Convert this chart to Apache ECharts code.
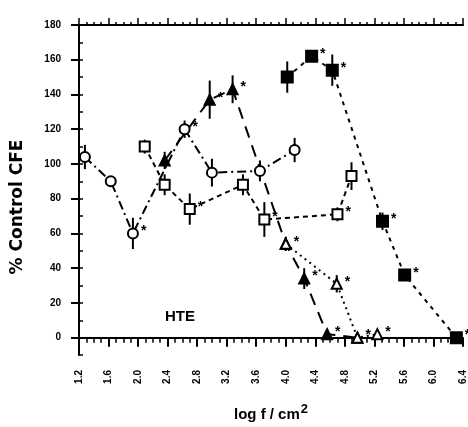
<!DOCTYPE html>
<html lang="en">
<head>
<meta charset="UTF-8">
<title>HTE control CFE</title>
<script src="https://cdn.jsdelivr.net/npm/echarts@6/dist/echarts.min.js"></script>
<style>
  * { margin: 0; padding: 0; }
  body { background: #fff; }
  #chart { width: 468px; height: 427px; }
</style>
</head>
<body>
<div id="chart"></div>
<script>
// tick labels
const xTicks = [1.2, 1.6, 2.0, 2.4, 2.8, 3.2, 3.6, 4.0, 4.4, 4.8, 5.2, 5.6, 6.0, 6.4];
const yTicks = [0, 20, 40, 60, 80, 100, 120, 140, 160, 180];

// open circles, dash-dot line
const circX = [1.28, 1.63, 1.93, 2.63, 3.0, 3.65, 4.12];
const circY = [104, 90, 60, 120, 95, 96, 108];
const circErr = [7, 3, 9, 5, 8, 6, 7];
const circStar = [0, 0, 1, 1, 0, 0, 0];

// open squares, short dashes
const sqX = [2.09, 2.36, 2.70, 3.42, 3.71, 4.70, 4.89];
const sqY = [110, 88, 74, 88, 68, 71, 93];
const sqErr = [4, 6, 9, 6, 10, 4, 8];
const sqStar = [0, 0, 1, 0, 1, 1, 0];

// filled triangles, long dashes
const triX = [2.36, 2.97, 3.28, 4.0, 4.25, 4.56, 4.97];
const triY = [102, 137, 143, 54, 34, 2, 0];
const triErr = [5, 11, 8, 4, 6, 3, 2];
const triStar = [0, 1, 1, 0, 1, 1, 0];

// open triangles, dotted
const otriX = [4.0, 4.69, 4.97, 5.24];
const otriY = [54, 31, 0, 2];
const otriErr = [4, 5, 2, 2];
const otriStar = [1, 1, 1, 1];

// filled squares, dotted
const fsqX = [4.02, 4.35, 4.63, 5.31, 5.61, 6.31];
const fsqY = [150, 162, 154, 67, 36, 0];
const fsqErr = [9, 3, 9, 5, 3, 2];
const fsqStar = [0, 1, 1, 1, 1, 1];

const xMinor = [];
for (let i = 12; i <= 64; i++) if (i % 4) xMinor.push(i / 10);
const yMinor = [];
for (let v = -10; v <= 180; v += 10) yMinor.push(v);

const font = 'Liberation Sans';

function lineSeries(xs, ys, stars, symbol, size, dash, filled) {
  return {
    type: 'line',
    data: xs.map((x, i) => [x, ys[i]]),
    symbol: symbol,
    symbolSize: size,
    lineStyle: { color: '#000', width: 2, type: dash },
    itemStyle: { color: filled ? '#000' : '#fff', borderColor: '#000', borderWidth: 2 },
    label: {
      show: true, position: 'right', distance: 2, offset: [0, -2],
      formatter: p => stars[p.dataIndex] ? '*' : '',
      fontSize: 14, fontWeight: 'bold', color: '#000', fontFamily: font
    },
    emphasis: { disabled: true },
    z: 3
  };
}

function errSeries(xs, ys, errs) {
  return {
    type: 'custom',
    data: xs.map((x, i) => [x, ys[i] - errs[i], ys[i] + errs[i]]),
    encode: { x: 0, y: [1, 2] },
    silent: true,
    z: 2,
    renderItem: (params, api) => {
      const a = api.coord([api.value(0), api.value(1)]);
      const b = api.coord([api.value(0), api.value(2)]);
      return {
        type: 'line',
        shape: { x1: a[0], y1: a[1], x2: b[0], y2: b[1] },
        style: { stroke: '#000', lineWidth: 2 }
      };
    }
  };
}

const chart = echarts.init(document.getElementById('chart'));

const xBase = { type: 'value', min: 1.2, max: 6.4, splitLine: { show: false } };
const yBase = { type: 'value', min: -10, max: 180, splitLine: { show: false } };

chart.setOption({
  animation: false,
  backgroundColor: '#fff',
  grid: { left: 79, right: 4, top: 25, bottom: 72 },
  xAxis: [
    Object.assign({}, xBase, {
      position: 'bottom',
      axisLine: { lineStyle: { color: '#000', width: 2 } },
      axisTick: { customValues: xTicks, length: 9, lineStyle: { color: '#000', width: 2 } },
      axisLabel: {
        customValues: xTicks, rotate: 90, margin: 15,
        formatter: v => v.toFixed(1),
        color: '#000', fontSize: 10, fontWeight: 'bold', fontFamily: font
      },
      name: 'log f / cm{s|2}',
      nameLocation: 'middle',
      nameGap: 48,
      nameTextStyle: {
        color: '#000', fontSize: 15, fontWeight: 'bold', fontFamily: font,
        rich: { s: { fontSize: 13, fontWeight: 'bold', fontFamily: font, color: '#000', padding: [0, 0, 10, 1] } }
      }
    }),
    Object.assign({}, xBase, {
      position: 'bottom',
      axisLine: { show: false },
      axisTick: { customValues: xMinor, length: 5, lineStyle: { color: '#000', width: 1.5 } },
      axisLabel: { show: false }
    }),
    Object.assign({}, xBase, {
      position: 'top',
      axisLine: { lineStyle: { color: '#000', width: 2 } },
      axisTick: { customValues: xTicks, length: 7, lineStyle: { color: '#000', width: 1.5 } },
      axisLabel: { show: false }
    }),
    Object.assign({}, xBase, {
      position: 'top',
      axisLine: { show: false },
      axisTick: { customValues: xMinor, length: 3, lineStyle: { color: '#000', width: 1.5 } },
      axisLabel: { show: false }
    })
  ],
  yAxis: [
    Object.assign({}, yBase, {
      position: 'left',
      axisLine: { lineStyle: { color: '#000', width: 2 } },
      axisTick: { customValues: yTicks, length: 8, lineStyle: { color: '#000', width: 2 } },
      axisLabel: {
        customValues: yTicks, margin: 18,
        color: '#000', fontSize: 10, fontWeight: 'bold', fontFamily: font
      }
    }),
    Object.assign({}, yBase, {
      position: 'left',
      axisLine: { show: false },
      axisTick: { inside: true, customValues: yMinor, length: 4, lineStyle: { color: '#000', width: 1.5 } },
      axisLabel: { show: false }
    })
  ],
  graphic: [
    {
      type: 'text', x: 18, y: 207, rotation: Math.PI / 2,
      style: { text: '% Control CFE', font: 'bold 17px "DejaVu Sans"', fill: '#000', align: 'center', verticalAlign: 'middle' }
    },
    {
      type: 'text', x: 180, y: 317,
      style: { text: 'HTE', font: 'bold 15px "Liberation Sans"', fill: '#000', align: 'center', verticalAlign: 'middle' }
    }
  ],
  series: [
    errSeries(circX, circY, circErr),
    errSeries(sqX, sqY, sqErr),
    errSeries(triX, triY, triErr),
    errSeries(otriX, otriY, otriErr),
    errSeries(fsqX, fsqY, fsqErr),
    lineSeries(triX, triY, triStar, 'triangle', 10, [12, 8], true),
    lineSeries(circX, circY, circStar, 'circle', 10, [9, 4, 2, 4], false),
    lineSeries(sqX, sqY, sqStar, 'rect', 10, [5, 4], false),
    lineSeries(otriX, otriY, otriStar, 'triangle', 10, [2, 4], false),
    lineSeries(fsqX, fsqY, fsqStar, 'rect', 11, [4, 5], true)
  ]
});
</script>
</body>
</html>
